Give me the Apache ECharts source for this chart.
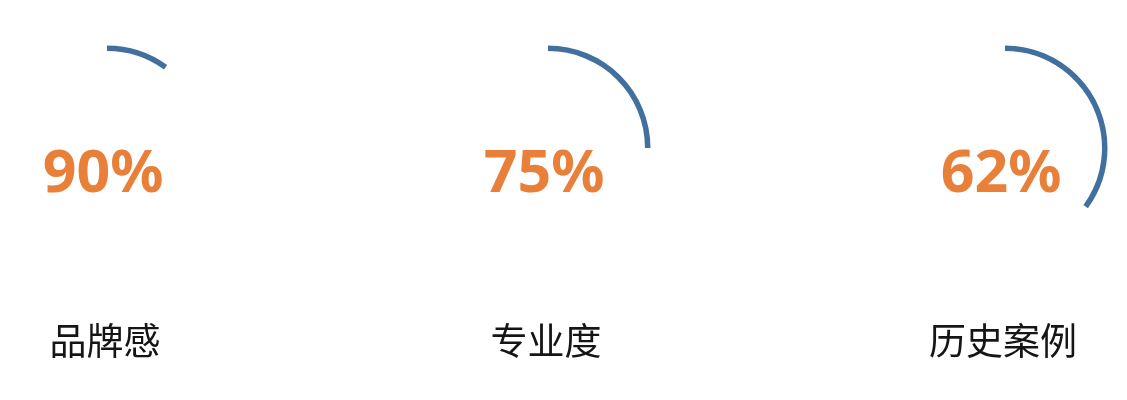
<!DOCTYPE html>
<html>
<head>
<meta charset="utf-8">
<title>品牌感 / 专业度 / 历史案例</title>
<script src="https://cdn.jsdelivr.net/npm/echarts@6/dist/echarts.min.js"></script>
<style>
    html, body { margin: 0; padding: 0; background: #ffffff; }
    #chart { width: 1127px; height: 400px; }
</style>
</head>
<body>
<div id="chart"></div>
<script>
// Data
const categories = ['品牌感', '专业度', '历史案例'];
const percentValues = [90, 75, 62];
// share of the ring drawn as the blue arc (as it appears in the picture)
const arcShares = [10, 25, 35];

const centersX = [107, 548, 1005];

function buildSeries(i) {
    return {
        type: 'pie',
        center: [centersX[i], 148],
        radius: [97, 102.5],
        startAngle: 90,
        clockwise: true,
        silent: true,
        animation: false,
        labelLine: { show: false },
        data: [
            {
                value: arcShares[i],
                itemStyle: { color: '#41709F' },
                label: {
                    show: true,
                    position: 'center',
                    formatter: percentValues[i] + '%',
                    offset: [-4, 27],
                    color: '#E8803A',
                    fontSize: 59,
                    fontWeight: 'bold',
                    fontFamily: 'Noto Sans'
                }
            },
            {
                value: 100 - arcShares[i],
                itemStyle: { color: 'rgba(0,0,0,0)' },
                label: {
                    show: true,
                    position: 'center',
                    formatter: categories[i],
                    offset: [-2, 193],
                    color: '#151515',
                    fontSize: 37,
                    fontFamily: 'Noto Sans CJK SC'
                }
            }
        ]
    };
}

document.addEventListener('DOMContentLoaded', function() {
    const chart = echarts.init(document.getElementById('chart'));
    chart.setOption({
        backgroundColor: '#ffffff',
        series: categories.map((c, i) => buildSeries(i))
    });
});
</script>
</body>
</html>
